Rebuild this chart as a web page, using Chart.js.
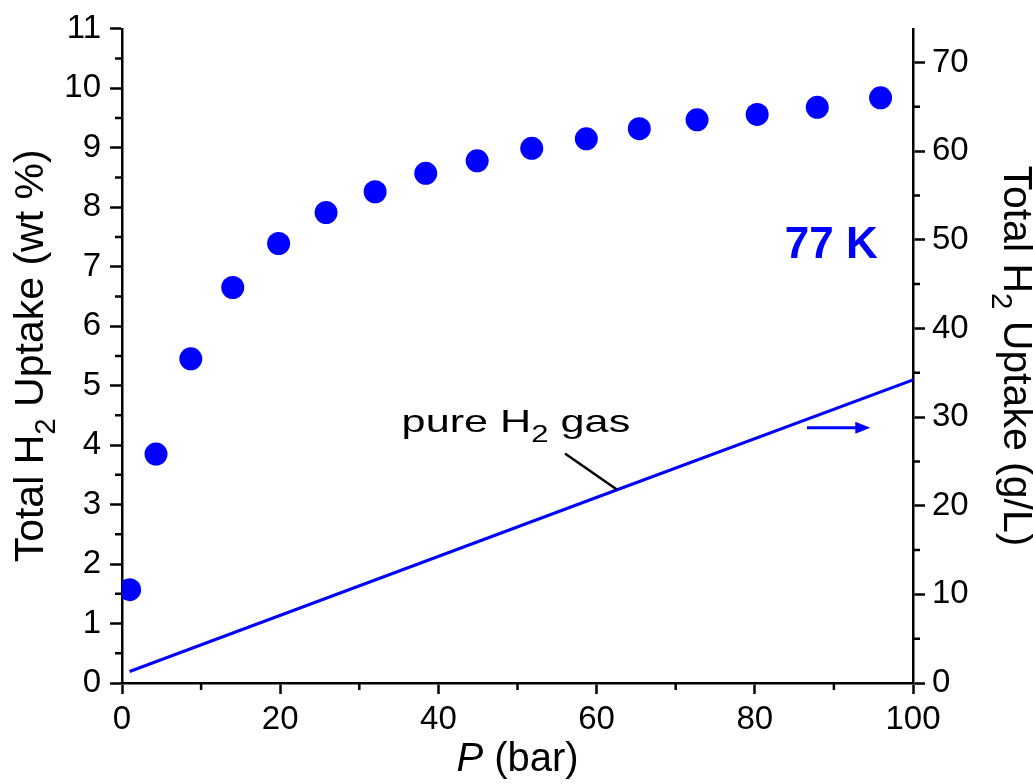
<!DOCTYPE html>
<html>
<head>
<meta charset="utf-8">
<script src="https://cdn.jsdelivr.net/npm/chart.js@4.4.0/dist/chart.umd.min.js"></script>
<style>
html, body { margin: 0; padding: 0; background: #fff; }
</style>
</head>
<body>
<canvas id="uptakeChart" width="1033" height="784"></canvas>
<script>
// total H2 uptake at 77 K (left axis, wt %)
var pressure = [0.96, 4.3, 8.7, 14.0, 19.8, 25.8, 32.0, 38.4, 44.9, 51.8, 58.7, 65.4, 72.7, 80.3, 87.9, 95.9];
var uptakeWt = [1.57, 3.85, 5.45, 6.65, 7.39, 7.91, 8.26, 8.57, 8.78, 8.99, 9.15, 9.32, 9.47, 9.56, 9.68, 9.84];

// pure H2 gas density (right axis, g/L)
var gasPressure = [0.96, 62.6, 100];
var gasDensity = [1.3, 21.8, 34.2];

// tick labels
var xTicks = [0, 20, 40, 60, 80, 100];
var leftTicks = [0, 1, 2, 3, 4, 5, 6, 7, 8, 9, 10, 11];
var rightTicks = [0, 10, 20, 30, 40, 50, 60, 70];
var xMinor = [10, 30, 50, 70, 90];
var leftMinor = [0.5, 1.5, 2.5, 3.5, 4.5, 5.5, 6.5, 7.5, 8.5, 9.5, 10.5];
var rightMinor = [5, 15, 25, 35, 45, 55, 65];
var rightMax = 73.8; // 11 wt % lines up with this on the g/L axis

var blue = '#0000ff';
var family = "'Liberation Sans', Arial, Helvetica, sans-serif";

// draws text with a subscripted part, anchor at current origin (baseline)
function drawParts(ctx, parts, size, align) {
    var total = 0;
    parts.forEach(function(p) {
        ctx.font = (p.italic ? 'italic ' : '') + (p.sub ? size * 0.72 : size) + 'px ' + family;
        p.w = ctx.measureText(p.t).width;
        total += p.w;
    });
    var x = align === 'center' ? -total / 2 : 0;
    ctx.textAlign = 'left';
    ctx.textBaseline = 'alphabetic';
    parts.forEach(function(p) {
        ctx.font = (p.italic ? 'italic ' : '') + (p.sub ? size * 0.72 : size) + 'px ' + family;
        ctx.fillText(p.t, x, p.sub ? size * 0.3 : 0);
        x += p.w;
    });
}

var decor = {
    id: 'decor',
    afterDraw: function(chart) {
        var ctx = chart.ctx;
        var xs = chart.scales.x, ys = chart.scales.y, y2 = chart.scales.y2;
        var area = chart.chartArea;
        ctx.save();

        // minor ticks
        ctx.strokeStyle = '#000';
        ctx.lineWidth = 2.5;
        ctx.beginPath();
        xMinor.forEach(function(v) {
            var px = xs.getPixelForValue(v);
            ctx.moveTo(px, area.bottom); ctx.lineTo(px, area.bottom + 7);
        });
        leftMinor.forEach(function(v) {
            var py = ys.getPixelForValue(v);
            ctx.moveTo(area.left, py); ctx.lineTo(area.left - 7, py);
        });
        rightMinor.forEach(function(v) {
            var py = y2.getPixelForValue(v);
            ctx.moveTo(area.right, py); ctx.lineTo(area.right + 7, py);
        });
        ctx.stroke();

        ctx.fillStyle = '#000';
        var midY = (area.top + area.bottom) / 2;

        // left axis title
        ctx.save();
        ctx.translate(43, midY);
        ctx.rotate(-Math.PI / 2);
        drawParts(ctx, [{t: 'Total H'}, {t: '2', sub: true}, {t: ' Uptake (wt %)'}], 41, 'center');
        ctx.restore();

        // right axis title
        ctx.save();
        ctx.translate(1004, midY);
        ctx.rotate(Math.PI / 2);
        drawParts(ctx, [{t: 'Total H'}, {t: '2', sub: true}, {t: ' Uptake (g/L)'}], 41, 'center');
        ctx.restore();

        // x axis title
        ctx.save();
        ctx.translate((area.left + area.right) / 2, 771);
        drawParts(ctx, [{t: 'P', italic: true}, {t: ' (bar)'}], 40, 'center');
        ctx.restore();

        // "pure H2 gas" label with leader line
        ctx.save();
        ctx.translate(xs.getPixelForValue(35.35), ys.getPixelForValue(4.22));
        ctx.scale(1.35, 1);
        drawParts(ctx, [{t: 'pure H'}, {t: '2', sub: true}, {t: ' gas'}], 32, 'left');
        ctx.restore();

        ctx.beginPath();
        ctx.lineWidth = 2.5;
        ctx.moveTo(xs.getPixelForValue(56.0), ys.getPixelForValue(3.86));
        ctx.lineTo(xs.getPixelForValue(62.6), ys.getPixelForValue(3.25));
        ctx.stroke();

        // 77 K
        ctx.fillStyle = blue;
        ctx.font = 'bold 44px ' + family;
        ctx.textAlign = 'left';
        ctx.textBaseline = 'alphabetic';
        ctx.fillText('77 K', xs.getPixelForValue(83.8), ys.getPixelForValue(7.14));

        // arrow pointing to the right axis
        var ay = ys.getPixelForValue(4.29);
        var ax0 = xs.getPixelForValue(86.6), tip = xs.getPixelForValue(94.6);
        ctx.strokeStyle = blue;
        ctx.lineWidth = 3;
        ctx.beginPath();
        ctx.moveTo(ax0, ay); ctx.lineTo(tip - 10, ay);
        ctx.stroke();
        ctx.beginPath();
        ctx.moveTo(tip, ay);
        ctx.lineTo(tip - 15, ay - 6);
        ctx.lineTo(tip - 15, ay + 6);
        ctx.closePath();
        ctx.fill();

        ctx.restore();
    }
};

function fixedTicks(list) {
    return function(scale) {
        scale.ticks = list.map(function(v) { return {value: v}; });
    };
}

var tickFont = {family: family, size: 33};

var ctx = document.getElementById('uptakeChart').getContext('2d');
var uptakeChart = new Chart(ctx, {
    type: 'scatter',
    data: {
        datasets: [{
            label: 'Total H2 uptake',
            data: pressure.map(function(p, i) { return {x: p, y: uptakeWt[i]}; }),
            yAxisID: 'y',
            backgroundColor: blue,
            borderColor: blue,
            borderWidth: 0,
            pointRadius: 11.5,
            pointHoverRadius: 11.5
        }, {
            label: 'pure H2 gas',
            data: gasPressure.map(function(p, i) { return {x: p, y: gasDensity[i]}; }),
            yAxisID: 'y2',
            showLine: true,
            borderColor: blue,
            borderWidth: 3,
            pointRadius: 0,
            fill: false
        }]
    },
    options: {
        responsive: false,
        animation: false,
        devicePixelRatio: 1,
        layout: {padding: {top: 23, left: 0, right: 0, bottom: 0}},
        plugins: {legend: {display: false}, tooltip: {enabled: false}},
        scales: {
            x: {
                type: 'linear', position: 'bottom', min: 0, max: 100,
                afterBuildTicks: fixedTicks(xTicks),
                afterFit: function(s) { s.height = 101; },
                grid: {drawOnChartArea: false, drawTicks: true, tickLength: 11, tickWidth: 2.5, tickColor: '#000'},
                border: {display: true, color: '#000', width: 2.5},
                ticks: {color: '#000', font: tickFont, padding: 6, maxRotation: 0, autoSkip: false}
            },
            y: {
                type: 'linear', position: 'left', min: 0, max: 11,
                afterBuildTicks: fixedTicks(leftTicks),
                afterFit: function(s) { s.width = 122; },
                grid: {drawOnChartArea: false, drawTicks: true, tickLength: 12, tickWidth: 2.5, tickColor: '#000'},
                border: {display: true, color: '#000', width: 2.5},
                ticks: {color: '#000', font: tickFont, padding: 9, autoSkip: false}
            },
            y2: {
                type: 'linear', position: 'right', min: 0, max: rightMax,
                afterBuildTicks: fixedTicks(rightTicks),
                afterFit: function(s) { s.width = 120; },
                grid: {drawOnChartArea: false, drawTicks: true, tickLength: 12, tickWidth: 2.5, tickColor: '#000'},
                border: {display: true, color: '#000', width: 2.5},
                ticks: {color: '#000', font: tickFont, padding: 7, autoSkip: false}
            }
        }
    },
    plugins: [decor]
});
</script>
</body>
</html>
